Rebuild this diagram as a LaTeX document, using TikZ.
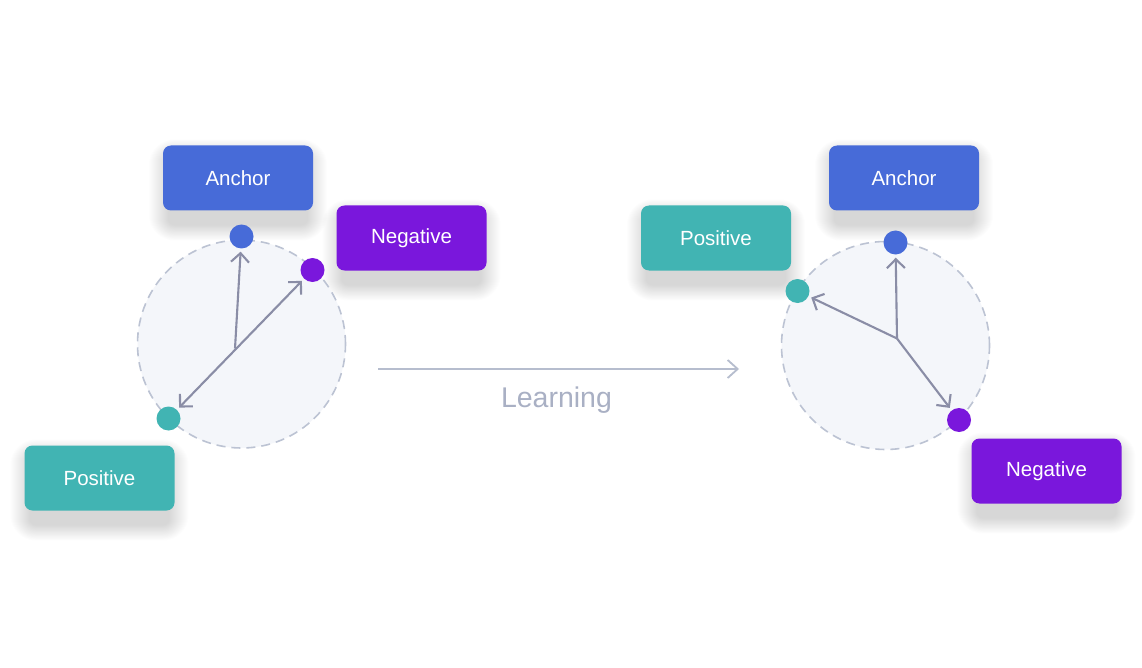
\documentclass[tikz,border=0pt]{standalone}
\usepackage{fontspec}
\setmainfont{Liberation Sans}
\usetikzlibrary{arrows.meta,backgrounds}
\definecolor{anc}{HTML}{476BD8}
\definecolor{neg}{HTML}{7A17DC}
\definecolor{pos}{HTML}{41B4B3}
\definecolor{vecc}{HTML}{8A8DA6}
\definecolor{ringc}{HTML}{BCC3D3}
\definecolor{ringfill}{HTML}{F4F6FA}
\definecolor{learnc}{HTML}{B6BDCE}
\definecolor{learntext}{HTML}{A9B0C4}
\begin{document}
\begin{tikzpicture}[x=1pt,y=-1pt,
  labelbox/.style={rounded corners=8pt, minimum width=150pt, minimum height=65pt,
    text=white, font=\fontsize{20.5}{24}\selectfont, inner sep=0pt},
  shadowlayer/.style={fill=black, opacity=0.006},
  dot/.style={circle, inner sep=0pt, minimum size=24pt},
  tipv/.tip={Straight Barb[length=9pt,width=18pt]},
  vec/.style={draw=vecc, line width=2.1pt, -tipv, shorten >=3pt},
  ring/.style={draw=ringc, fill=ringfill, line width=1.6pt, dash pattern=on 9pt off 6pt}]
\useasboundingbox (0,0) rectangle (1142,668);

% ---------- left panel ----------
\coordinate (lc) at (241.5,344);
\draw[ring] (lc) circle (104pt);
\node[labelbox, fill=anc] (la) at (238,178) {Anchor};
\node[labelbox, fill=neg] (lnb) at (411.5,238) {Negative};
\node[labelbox, fill=pos] (lpb) at (99.5,478) {Positive};
\node[dot, fill=anc] (lda) at (241.5,236.5) {};
\node[dot, fill=neg] (ldn) at (312.5,270) {};
\node[dot, fill=pos] (ldp) at (168.5,418.5) {};
\coordinate (lo) at (235,348.5);
\draw[vec, tipv-tipv, shorten <=3pt] (ldp) -- (ldn);
\draw[vec] (lo) -- (lda);

% ---------- learning arrow ----------
\coordinate (ls) at (378,369);
\coordinate (le) at (739,369);
\draw[draw=learnc, line width=1.8pt, -{Straight Barb[length=10pt,width=18pt]}] (ls) -- (le);
\node[text=learntext, font=\fontsize{28.5}{32}\selectfont] (learn) at (556.5,400) {Learning};

% ---------- right panel ----------
\coordinate (rc) at (885.5,345.5);
\draw[ring] (rc) circle (104pt);
\node[labelbox, fill=anc] (ra) at (904,178) {Anchor};
\node[labelbox, fill=pos] (rpb) at (716,238) {Positive};
\node[labelbox, fill=neg] (rnb) at (1046.5,471) {Negative};
\node[dot, fill=anc] (rda) at (895.5,242.5) {};
\node[dot, fill=pos] (rdp) at (797.5,291) {};
\node[dot, fill=neg] (rdn) at (959,420) {};
\coordinate (ro) at (897,338.5);
\draw[vec] (ro) -- (rda);
\draw[vec] (ro) -- (rdp);
\draw[vec] (ro) -- (rdn);

% ---------- soft shadows behind the boxes ----------
\begin{scope}[on background layer]
\fill[white] (0,0) rectangle (1142,668);
\foreach \n in {la,lnb,lpb,ra,rpb,rnb}{
  \foreach \s in {1,...,20}{
    \fill[shadowlayer, rounded corners={6pt+\s pt}]
      ([shift={(-\s pt+6pt,-14pt-0.8*\s pt)}]\n.south west)
      rectangle ([shift={(\s pt-6pt,-10pt+0.8*\s pt)}]\n.north east);
  }
}
\end{scope}
\end{tikzpicture}
\end{document}
